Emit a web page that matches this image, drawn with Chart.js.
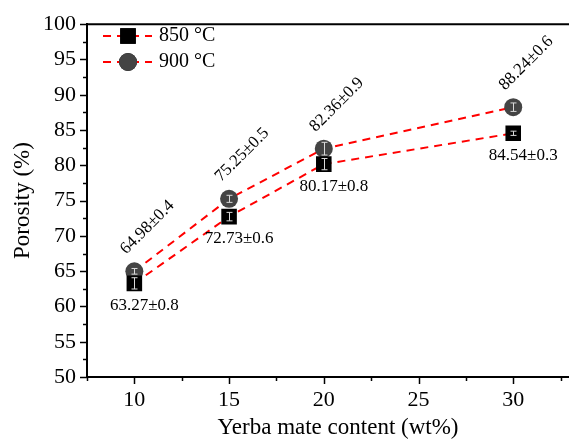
<!DOCTYPE html>
<html>
<head>
<meta charset="utf-8">
<script src="https://cdn.jsdelivr.net/npm/chart.js@4.4.1/dist/chart.umd.min.js"></script>
<style>
html, body { margin: 0; padding: 0; background: #fff; }
#wrap { width: 569px; height: 442px; overflow: hidden; }
</style>
</head>
<body>
<div id="wrap"><canvas id="porosity-chart" width="600" height="442" style="width:600px;height:442px"></canvas></div>
<script>
const content = [10, 15, 20, 30];
const porosity850 = [63.27, 72.73, 80.17, 84.54];
const error850 = [0.8, 0.6, 0.8, 0.3];
const porosity900 = [64.98, 75.25, 82.36, 88.24];
const error900 = [0.4, 0.5, 0.9, 0.6];
const xTicks = [10, 15, 20, 25, 30];
const seriesNames = ["850 °C", "900 °C"];

const serif = "'Liberation Serif', 'Times New Roman', serif";
const errors = [error850, error900];

const extras = {
    id: 'extras',
    afterDatasetsDraw(chart) {
        const ctx = chart.ctx;
        const y = chart.scales.y;
        ctx.save();
        ctx.strokeStyle = '#d9d9d9';
        ctx.lineWidth = 1;
        chart.data.datasets.forEach((ds, i) => {
            chart.getDatasetMeta(i).data.forEach((pt, j) => {
                const v = ds.data[j].y;
                const top = y.getPixelForValue(v + errors[i][j]);
                const bot = y.getPixelForValue(v - errors[i][j]);
                const px = Math.round(pt.x) + 0.5;
                ctx.beginPath();
                ctx.moveTo(px, top); ctx.lineTo(px, bot);
                ctx.moveTo(px - 3, top); ctx.lineTo(px + 3, top);
                ctx.moveTo(px - 3, bot); ctx.lineTo(px + 3, bot);
                ctx.stroke();
            });
        });
        ctx.restore();
    },
    afterDraw(chart) {
        const ctx = chart.ctx;
        const area = chart.chartArea;
        const x = chart.scales.x, y = chart.scales.y;
        ctx.save();
        ctx.strokeStyle = '#000';
        ctx.lineWidth = 2;
        // top frame line
        ctx.beginPath();
        ctx.moveTo(area.left, area.top);
        ctx.lineTo(area.right, area.top);
        ctx.stroke();
        // tick marks, major and minor
        ctx.lineWidth = 1.5;
        for (let v = x.min; v <= x.max; v += 2.5) {
            const px = Math.round(x.getPixelForValue(v)) + 0.5;
            const len = v % 5 === 0 ? 7 : 4;
            ctx.beginPath();
            ctx.moveTo(px, area.bottom); ctx.lineTo(px, area.bottom + len);
            ctx.stroke();
        }
        for (let v = y.min; v <= y.max; v += 2.5) {
            const py = Math.round(y.getPixelForValue(v)) + 0.5;
            const len = v % 5 === 0 ? 7 : 4;
            ctx.beginPath();
            ctx.moveTo(area.left, py); ctx.lineTo(area.left - len, py);
            ctx.stroke();
        }

        // value labels
        ctx.fillStyle = '#000';
        ctx.font = '17px ' + serif;
        ctx.textAlign = 'center';
        ctx.textBaseline = 'middle';
        chart.getDatasetMeta(0).data.forEach((pt, j) => {
            ctx.fillText(porosity850[j].toFixed(2) + '±' + error850[j], pt.x + 10, pt.y + 22);
        });
        chart.getDatasetMeta(1).data.forEach((pt, j) => {
            ctx.save();
            ctx.translate(pt.x + 13, pt.y - 44);
            ctx.rotate(-Math.PI / 4);
            ctx.fillText(porosity900[j].toFixed(2) + '±' + error900[j], 0, 0);
            ctx.restore();
        });

        // legend
        chart.data.datasets.forEach((ds, i) => {
            const ly = 36 + i * 26;
            ctx.strokeStyle = ds.borderColor;
            ctx.lineWidth = 2;
            ctx.setLineDash(ds.borderDash);
            ctx.beginPath();
            ctx.moveTo(103, ly); ctx.lineTo(152, ly);
            ctx.stroke();
            ctx.setLineDash([]);
            Chart.helpers.drawPoint(ctx, {
                pointStyle: ds.pointStyle, radius: ds.pointRadius, borderWidth: 0
            }, 128, ly);
            ctx.fillStyle = ds.pointBackgroundColor;
            ctx.fill();
            ctx.fillStyle = '#000';
            ctx.font = '20px ' + serif;
            ctx.textAlign = 'left';
            ctx.fillText(seriesNames[i], 159, ly);
        });
        ctx.restore();
    }
};

new Chart(document.getElementById("porosity-chart"), {
    type: 'line',
    data: {
        datasets: [{
            label: seriesNames[0],
            data: content.map((c, i) => ({x: c, y: porosity850[i]})),
            borderColor: '#ff0000',
            borderWidth: 2,
            borderDash: [8, 6],
            pointStyle: 'rect',
            pointRadius: 11,
            pointBackgroundColor: '#000',
            pointBorderWidth: 0,
            fill: false
        }, {
            label: seriesNames[1],
            data: content.map((c, i) => ({x: c, y: porosity900[i]})),
            borderColor: '#ff0000',
            borderWidth: 2,
            borderDash: [8, 6],
            pointStyle: 'circle',
            pointRadius: 9,
            pointBackgroundColor: '#444444',
            pointBorderWidth: 0,
            fill: false
        }]
    },
    options: {
        responsive: false,
        animation: false,
        layout: {padding: {top: 22, left: 0, right: 0, bottom: 0}},
        plugins: {legend: {display: false}, tooltip: {enabled: false}},
        scales: {
            x: {
                type: 'linear',
                min: 7.5,
                max: 34,
                afterBuildTicks: s => { s.ticks = xTicks.map(v => ({value: v})); },
                afterFit: s => { s.height = 65; },
                grid: {drawOnChartArea: false, drawTicks: false},
                border: {color: '#000', width: 2},
                ticks: {color: '#000', font: {family: serif, size: 22}, padding: 10, maxRotation: 0},
                title: {display: true, text: 'Yerba mate content (wt%)', color: '#000',
                    font: {family: serif, size: 23}, padding: 0}
            },
            y: {
                min: 50,
                max: 100,
                afterFit: s => { s.width = 87; },
                grid: {drawOnChartArea: false, drawTicks: false},
                border: {color: '#000', width: 2},
                ticks: {stepSize: 5, color: '#000', font: {family: serif, size: 22}, padding: 11},
                title: {display: true, text: 'Porosity (%)', color: '#000',
                    font: {family: serif, size: 23}, padding: {top: 9, bottom: 0}}
            }
        }
    },
    plugins: [extras]
});
</script>
</body>
</html>
